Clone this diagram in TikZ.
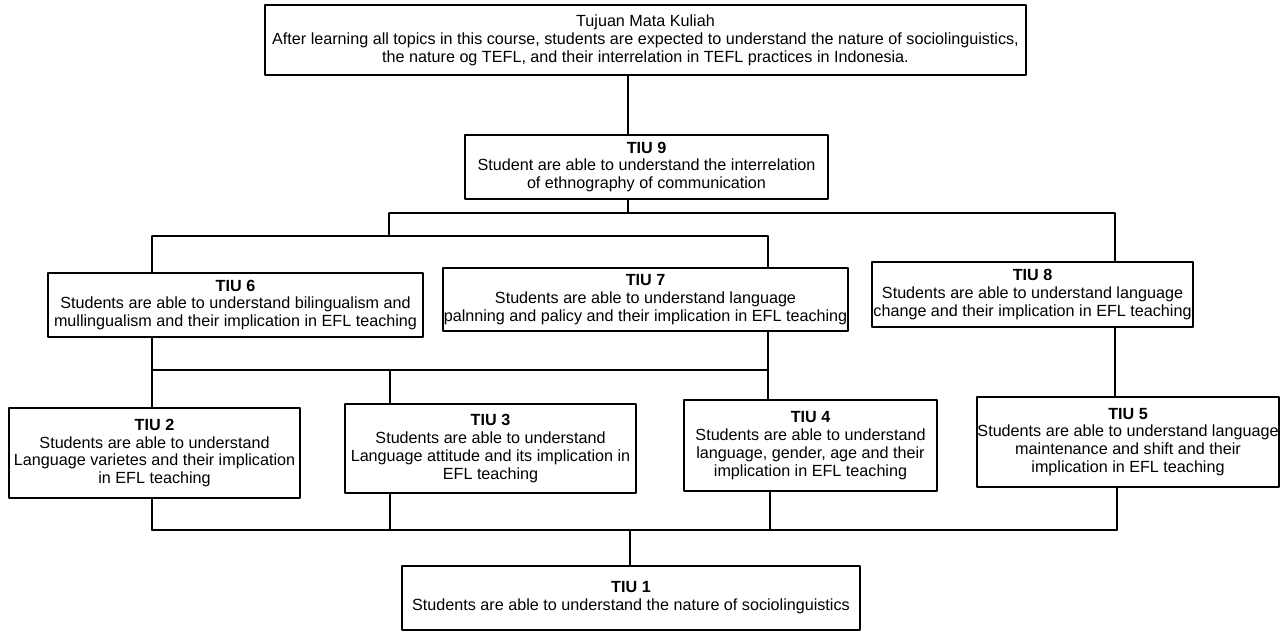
\documentclass[tikz,border=0pt]{standalone}
\usepackage{fontspec}
\setmainfont{Liberation Sans}
\begin{document}
\begin{tikzpicture}[x=.02cm,y=-.02cm,line width=.8pt,line join=round,line cap=round,font=\fontsize{9.2}{10.2}\selectfont,
	box/.style 2 args={draw,line width=1pt,inner sep=0pt,align=center,minimum width=#1*.02cm,minimum height=#2*.02cm}]
	\useasboundingbox (0,0) rectangle (1280,631);
	\node[box={761}{70}] (T) at (645.5,40) {Tujuan Mata Kuliah\\After learning all topics in this course, students are expected to understand the nature of sociolinguistics,\\the nature og TEFL, and their interrelation in TEFL practices in Indonesia.};
	\node[box={363}{64}] (T9) at (646.5,167) {\textbf{TIU 9}\\Student are able to understand the interrelation\\of ethnography of communication};
	\node[box={375}{64}] (T6) at (235.5,305) {\textbf{TIU 6}\\Students are able to understand bilingualism and\\mullingualism and their implication in EFL teaching};
	\node[box={405}{63}] (T7) at (645.5,299.5) {\textbf{TIU 7}\\Students are able to understand language\\palnning and palicy and their implication in EFL teaching};
	\node[box={321}{65}] (T8) at (1032.5,294.5) {\textbf{TIU 8}\\Students are able to understand language\\change and their implication in EFL teaching};
	\node[box={291}{90}] (T2) at (154.5,453) {\textbf{TIU 2}\\Students are able to understand\\Language varietes and their implication\\in EFL teaching};
	\node[box={291}{89}] (T3) at (490.5,448.5) {\textbf{TIU 3}\\Students are able to understand\\Language attitude and its implication in\\EFL teaching};
	\node[box={253}{91}] (T4) at (810.5,445.5) {\textbf{TIU 4}\\Students are able to understand\\language, gender, age and their\\implication in EFL teaching};
	\node[box={302}{90}] (T5) at (1128,442) {\textbf{TIU 5}\\Students are able to understand language\\maintenance and shift and their\\implication in EFL teaching};
	\node[box={458}{64}] (T1) at (631,598) {\textbf{TIU 1}\\Students are able to understand the nature of sociolinguistics};
	\path
	(628,213) coordinate (J9)
	(389,213) coordinate (J9l)
	(1115,213) coordinate (J9r)
	(389,236) coordinate (J67)
	(152,236) coordinate (J6)
	(768,236) coordinate (J7)
	(152,370) coordinate (J2)
	(390,370) coordinate (J3)
	(768,370) coordinate (J4)
	(152,530) coordinate (K2)
	(1117,530) coordinate (K5)
	(630,530) coordinate (J1)
	;
	\draw (T.south-|J9)--(T9.north-|J9) (T9.south-|J9)--(J9);
	\draw (J9l)--(J9r)--(T8.north-|J9r) (J9l)--(J67);
	\draw (J6)--(J7) (J6)--(T6.north-|J6) (J7)--(T7.north-|J7);
	\draw (T6.south-|J2)--(T2.north-|J2) (T7.south-|J4)--(T4.north-|J4) (J2)--(J4) (J3)--(T3.north-|J3);
	\draw (T8.south-|J9r)--(T5.north-|J9r);
	\draw (K2)--(K5) (J1)--(T1.north-|J1);
	\foreach \n/\x in {2/152,3/390,4/770,5/1117}
	\draw (T\n.south-|\x,0)--(\x,530);
\end{tikzpicture}
\end{document}
